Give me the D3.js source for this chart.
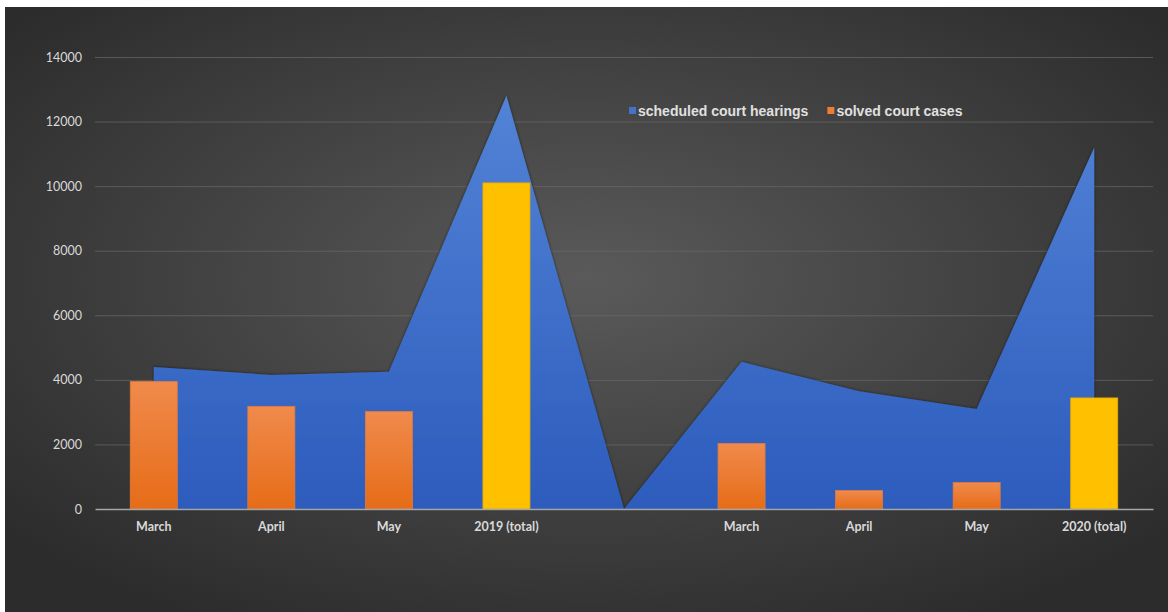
<!DOCTYPE html>
<html lang="en">
<head>
  <meta charset="UTF-8">
  <title>Court hearings and cases</title>
  <style>
    body { margin: 0; background: #fff; }
    svg { display: block; }
  </style>
</head>
<body>
  <section class="plot"></section>

  <script src="https://cdn.jsdelivr.net/npm/d3@7/dist/d3.min.js"></script>
  <script>
    // Data
    const categories = ["March", "April", "May", "2019 (total)", "", "March ", "April ", "May ", "2020 (total)"];
    const hearings = [4400, 4150, 4250, 12800, 0, 4560, 3650, 3100, 11200];
    const solved = [3950, 3180, 3020, 10100, null, 2030, 570, 820, 3440];
    const totals = [false, false, false, true, false, false, false, false, true];
    const yTicks = [0, 2000, 4000, 6000, 8000, 10000, 12000, 14000];
    const seriesNames = ["scheduled court hearings", "solved court cases"];

    const W = 1168, H = 612;
    const margin = { left: 95, right: 15, top: 57, bottom: 103 };

    const svg = d3.select(".plot").append("svg")
      .attr("width", W)
      .attr("height", H);

    const defs = svg.append("defs");

    const bg = defs.append("radialGradient").attr("id", "bg")
      .attr("cx", "50%").attr("cy", "45%").attr("r", "65%");
    bg.append("stop").attr("offset", "0%").attr("stop-color", "#5a5a5a");
    bg.append("stop").attr("offset", "100%").attr("stop-color", "#2c2c2c");

    const blue = defs.append("linearGradient").attr("id", "blue")
      .attr("x1", 0).attr("y1", 0).attr("x2", 0).attr("y2", 1);
    blue.append("stop").attr("offset", "0%").attr("stop-color", "#5283d6");
    blue.append("stop").attr("offset", "100%").attr("stop-color", "#2d5cbd");

    const orange = defs.append("linearGradient").attr("id", "orange")
      .attr("x1", 0).attr("y1", 0).attr("x2", 0).attr("y2", 1);
    orange.append("stop").attr("offset", "0%").attr("stop-color", "#f08a4c");
    orange.append("stop").attr("offset", "100%").attr("stop-color", "#e66c17");

    const shadow = defs.append("filter").attr("id", "shadow")
      .attr("x", "-10%").attr("y", "-10%").attr("width", "120%").attr("height", "120%");
    shadow.append("feDropShadow")
      .attr("dx", 0).attr("dy", 0).attr("stdDeviation", 1.5)
      .attr("flood-color", "#000").attr("flood-opacity", 0.6);

    // background
    svg.append("rect")
      .attr("x", 5).attr("y", 7)
      .attr("width", W - 5).attr("height", H - 7)
      .attr("fill", "url(#bg)");

    const x = d3.scaleBand()
      .domain(categories)
      .range([margin.left, W - margin.right])
      .paddingInner(0.6)
      .paddingOuter(0.3);

    const xc = d => x(d) + x.bandwidth() / 2;

    const y = d3.scaleLinear()
      .domain([0, 14000])
      .range([H - margin.bottom, margin.top]);

    // gridlines + y labels
    const yAxis = svg.append("g")
      .attr("transform", `translate(${margin.left},0)`)
      .call(d3.axisLeft(y).tickValues(yTicks).tickFormat(d3.format("d"))
        .tickSize(-(W - margin.left - margin.right)).tickPadding(13));
    yAxis.select(".domain").remove();
    yAxis.selectAll(".tick line")
      .attr("stroke", "#6a6a6a")
      .attr("stroke-width", 1)
      .attr("opacity", d => d === 0 ? 0 : 0.7);
    yAxis.selectAll("text")
      .attr("fill", "#d9d9d9")
      .attr("font-family", "Lato, 'Open Sans', sans-serif")
      .attr("font-size", 12.5);

    // area
    const area = d3.area()
      .x((d, i) => xc(categories[i]))
      .y0(y(0))
      .y1(d => y(d));

    svg.append("path")
      .datum(hearings)
      .attr("d", area)
      .attr("fill", "url(#blue)")
      .attr("filter", "url(#shadow)");

    // bars
    svg.append("g")
      .selectAll("rect")
      .data(solved.map((v, i) => ({ v, c: categories[i], total: totals[i] })).filter(d => d.v !== null))
      .join("rect")
        .attr("x", d => x(d.c))
        .attr("y", d => y(d.v))
        .attr("width", x.bandwidth())
        .attr("height", d => y(0) - y(d.v))
        .attr("fill", d => d.total ? "#ffc000" : "url(#orange)")
        .attr("stroke", d => d.total ? "#e6ad00" : "#e07a3a")
        .attr("stroke-width", 0.8);

    // x axis
    const xAxis = svg.append("g")
      .attr("transform", `translate(0,${y(0)})`)
      .call(d3.axisBottom(x).tickSize(0).tickPadding(13));
    xAxis.select(".domain")
      .attr("stroke", "#a6a6a6")
      .attr("stroke-width", 1.5);
    xAxis.selectAll("text")
      .attr("fill", "#d9d9d9")
      .attr("font-family", "Lato, 'Open Sans', sans-serif")
      .attr("font-weight", "bold")
      .attr("font-size", 12.5);

    // legend
    const legendColors = ["#4472c4", "#ed7d31"];
    const legend = svg.append("g")
      .attr("transform", "translate(629,111)");
    let lx = 0;
    seriesNames.forEach((name, i) => {
      const g = legend.append("g").attr("transform", `translate(${lx},0)`);
      g.append("rect")
        .attr("x", 0).attr("y", -4)
        .attr("width", 7).attr("height", 7)
        .attr("fill", legendColors[i]);
      const t = g.append("text")
        .attr("x", 9).attr("y", 0)
        .attr("dy", "0.35em")
        .attr("fill", "#e0e0e0")
        .attr("font-family", "'Liberation Sans', Arial, sans-serif")
        .attr("font-weight", "bold")
        .attr("font-size", 14)
        .text(name);
      lx += 9 + t.node().getComputedTextLength() + 19;
    });
  </script>
</body>
</html>
